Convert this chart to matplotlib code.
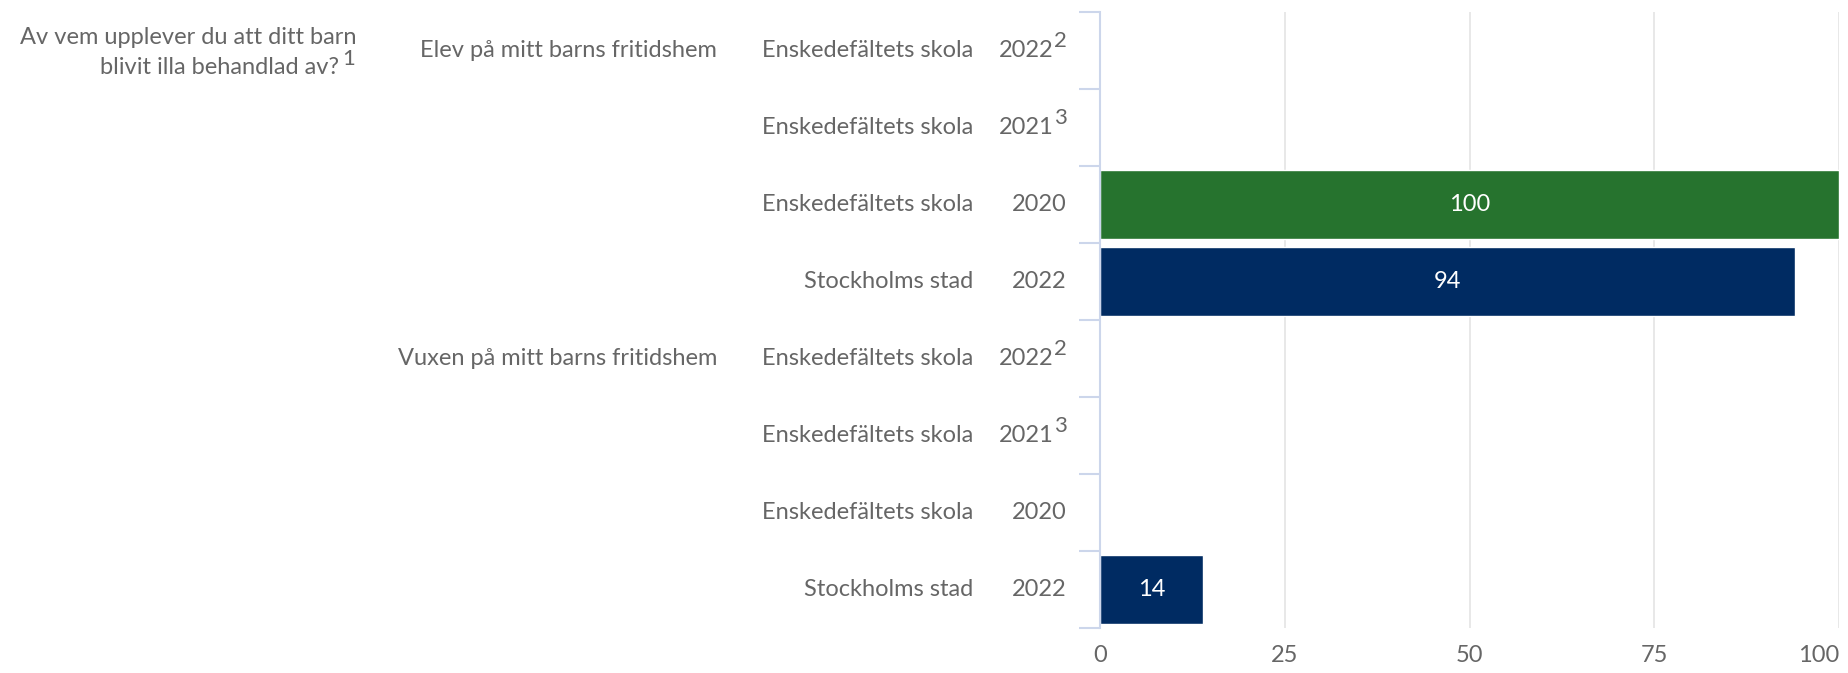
import numpy as np
import matplotlib
matplotlib.use("Agg")
import matplotlib.pyplot as plt
import matplotlib.transforms as mtransforms

# data
question = ["Av vem upplever du att ditt barn", "blivit illa behandlad av?"]
question_sup = "1"
categories = ["Elev på mitt barns fritidshem", "Vuxen på mitt barns fritidshem"]
units = ["Enskedefältets skola", "Enskedefältets skola", "Enskedefältets skola", "Stockholms stad"]
years = ["2022", "2021", "2020", "2022"]
year_sups = ["2", "3", "", ""]
values_elev = [np.nan, np.nan, 100, 94]
values_vuxen = [np.nan, np.nan, np.nan, 14]
xticks = [0, 25, 50, 75, 100]

green = "#26732e"
navy = "#002b62"
unit_colors = {"Enskedefältets skola": green, "Stockholms stad": navy}
txt = "#666666"

plt.rcParams["font.family"] = ["Lato", "DejaVu Sans"]
fs = 17

fig = plt.figure(figsize=(18.49, 6.73), dpi=100)
ax = fig.add_axes([1100 / 1849, 45 / 673, 739 / 1849, 616 / 673])

rows_units = units + units
rows_years = years + years
rows_sups = year_sups + year_sups
values = values_elev + values_vuxen
y = np.arange(len(values))
cols = [unit_colors[u] for u in rows_units]

bars = ax.barh(y, values, height=0.89, color=cols, edgecolor="white", linewidth=1, zorder=3)
for b, v in zip(bars, values):
    if not np.isnan(v):
        ax.text(v / 2, b.get_y() + b.get_height() / 2, f"{v:g}", color="white",
                ha="center", va="center", fontsize=fs, zorder=4)

ax.set_xlim(0, 100)
ax.set_ylim(len(values) - 0.5, -0.5)
ax.set_xticks(xticks)
ax.set_xticklabels([str(t) for t in xticks], fontsize=fs, color=txt)
ax.get_xticklabels()[-1].set_horizontalalignment("right")
ax.tick_params(axis="x", length=0, pad=12)
ax.set_yticks(np.arange(len(values) + 1) - 0.5)
ax.set_yticklabels([])
ax.tick_params(axis="y", length=15, width=1.5, color="#ccd6eb", direction="out")
ax.grid(axis="x", color="#e6e6e6", linewidth=1.3, zorder=0)
for s in ["top", "right", "bottom"]:
    ax.spines[s].set_visible(False)
ax.spines["left"].set_color("#ccd6eb")
ax.spines["left"].set_linewidth(1.5)
ax.spines["left"].set_zorder(5)

tr = mtransforms.blended_transform_factory(fig.transFigure, ax.transData)
x_year = 1067 / 1849
x_unit = 973 / 1849
x_cat = 717 / 1849
x_q = 352 / 1849
sup_w = 13 / 1849

for i in y:
    ys = rows_sups[i]
    if ys:
        ax.text(x_year - sup_w, i, rows_years[i], transform=tr, ha="right", va="center",
                fontsize=fs, color=txt)
        ax.annotate(ys, (x_year - sup_w, i), xycoords=tr, xytext=(0, 7), textcoords="offset points",
                    ha="left", va="center", fontsize=fs - 1, color=txt)
    else:
        ax.text(x_year, i, rows_years[i], transform=tr, ha="right", va="center",
                fontsize=fs, color=txt)
    ax.text(x_unit, i, rows_units[i], transform=tr, ha="right", va="center", fontsize=fs, color=txt)

for k, c in enumerate(categories):
    ax.text(x_cat, k * 4, c, transform=tr, ha="right", va="center", fontsize=fs, color=txt)

ax.text(x_q + 5 / 1849, -0.17, question[0], transform=tr, ha="right", va="center", fontsize=fs, color=txt)
ax.text(x_q - sup_w, 0.22, question[1], transform=tr, ha="right", va="center", fontsize=fs, color=txt)
ax.annotate(question_sup, (x_q - sup_w, 0.22), xycoords=tr, xytext=(2, 6), textcoords="offset points",
            ha="left", va="center", fontsize=fs - 1, color=txt)

fig.savefig("out.png", dpi=100)
